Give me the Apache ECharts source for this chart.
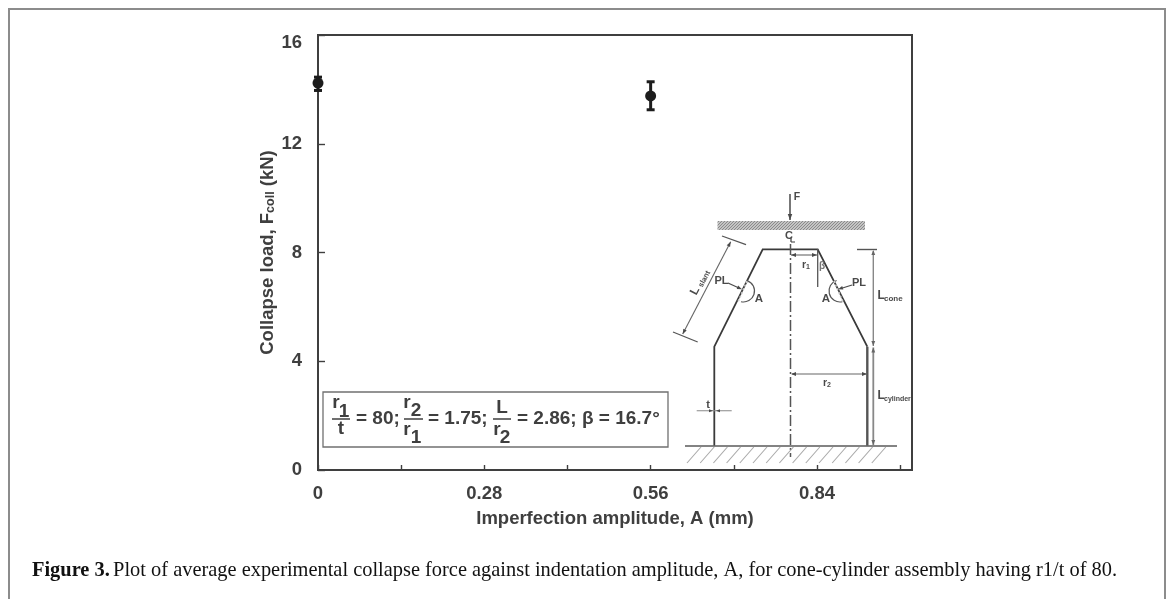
<!DOCTYPE html>
<html>
<head>
<meta charset="utf-8">
<style>html,body{margin:0;padding:0;background:#fff}#c{width:1171px;height:599px}</style>
<script src="https://cdn.jsdelivr.net/npm/echarts@6/dist/echarts.min.js"></script>
</head>
<body>
<div id="c"></div>
<script>
const amplitudes = [0, 0.56];
const meanLoad = [14.23, 13.76];
const loadHigh = [14.45, 14.28];
const loadLow = [13.96, 13.25];
const xTickLabels = {'0.00':'0','0.28':'0.28','0.56':'0.56','0.84':'0.84'};
const xTitle = 'Imperfection amplitude, A (mm)';
const yTitle = 'Collapse load, F{sub|coll} (kN)';
const caption = 'Plot of average experimental collapse force against indentation amplitude, A, for cone-cylinder assembly having r1/t of 80.';

const INK = '#3f3f3f', SCH = '#4a4a4a', SANS = '"Liberation Sans",Arial,sans-serif';

function line(x1,y1,x2,y2,w,color,dash){
  return {type:'line',silent:true,shape:{x1,y1,x2,y2},style:{stroke:color||SCH,lineWidth:w||1.2,lineDash:dash||null}};
}
function poly(points,fill){return {type:'polygon',silent:true,shape:{points},style:{fill:fill||SCH}};}
function head(x,y,dx,dy,size,color){
  const s=size||5,n=s*0.38;
  return poly([[x,y],[x-dx*s-dy*n,y-dy*s+dx*n],[x-dx*s+dy*n,y-dy*s-dx*n]],color);
}
function txt(x,y,text,size,opt){
  opt=opt||{};
  return {type:'text',silent:true,x,y,rotation:opt.rot||0,style:{text,fontFamily:opt.family||SANS,fontSize:size,fontWeight:opt.weight||'bold',fill:opt.fill||SCH,align:opt.align||'center',verticalAlign:'middle',rich:opt.rich}};
}
function dotPattern(){
  const c=document.createElement('canvas');c.width=3;c.height=3;
  const g=c.getContext('2d');g.fillStyle='#c4c4c4';g.fillRect(0,0,3,3);
  g.fillStyle='#8a8a8a';g.fillRect(0,0,1,1);g.fillRect(2,1,1,1);g.fillRect(1,2,1,1);
  return c;
}
function schematic(){
  const els=[];
  els.push({type:'rect',silent:true,shape:{x:717.5,y:221,width:147.5,height:9},style:{fill:{image:dotPattern(),repeat:'repeat'}}});
  els.push(line(790,194,790,220,1.5),head(790,220,0,1,6));
  els.push(txt(797,197,'F',10.5));
  els.push(txt(789,236,'C',11),line(791,238,791,242,1.3),line(791,242,795,242,1.1));
  els.push({type:'polyline',silent:true,shape:{points:[[714.3,445.7],[714.3,346.7],[762.7,249.3],[817.7,249.3],[867.3,346.7]]},style:{stroke:'#3a3a3a',lineWidth:1.8,fill:null}});
  els.push(line(867.3,346.7,867.3,445.7,2.4,'#555'));
  els.push(line(790.5,244,790.5,457,1.5,'#555',[11,3,2,3]));
  els.push(line(685,446,897,446,1.6,'#5a5a5a'));
  for(let x=701;x<=897;x+=13.2){els.push(line(x,447,x-14,463,1.1,'#a9a9a9'));}
  els.push(line(791,255,817,255,1.1,'#666'),head(791,255,-1,0,5),head(817,255,1,0,5));
  els.push(txt(804,265,'r',10.5),txt(808,267,'1',7));
  els.push(line(817.7,249,817.7,287,1.3,'#555'));
  els.push(txt(822,266,'β',10,{fill:'#777'}));
  els.push(line(857,249.5,877,249.5,1.4,'#555'));
  els.push(line(873.3,251,873.3,346,1.4,'#888'),head(873.3,250,0,-1,5,'#666'),head(873.3,346,0,1,5,'#666'));
  els.push(line(873.3,347.5,873.3,445,1.8,'#888'),head(873.3,347.5,0,-1,5,'#666'),head(873.3,445,0,1,5,'#666'));
  els.push(txt(877.5,296,'L',12,{align:'left'}),txt(884,298.5,'cone',8,{align:'left'}));
  els.push(txt(877.5,396,'L',12,{align:'left'}),txt(884,399,'cylinder',7,{align:'left'}));
  els.push(line(792,374,866,374,1.1,'#666'),head(791,374,-1,0,5),head(867,374,1,0,5));
  els.push(txt(825,383,'r',10.5),txt(829,385,'2',7));
  els.push(line(696.7,410.7,731.7,410.7,1.1,'#888'),head(713,410.7,1,0,4),head(716,410.7,-1,0,4));
  els.push(txt(708,405,'t',11));
  els.push(line(730.7,241.7,682.7,334,1.1,'#666'));
  els.push(head(730.7,241.7,0.46,-0.89,5),head(682.7,334,-0.46,0.89,5));
  els.push(line(722,236,746,244.7,1.3,'#555'),line(673,332,697.7,342,1.3,'#555'));
  els.push(txt(695,291,'L',12,{rot:1.08}),txt(704.5,279,'slant',7.5,{rot:1.08}));
  els.push({type:'arc',silent:true,shape:{cx:743.5,cy:291,r:11,startAngle:-1.25,endAngle:1.8},style:{stroke:'#555',lineWidth:1.2,fill:null}});
  els.push({type:'arc',silent:true,shape:{cx:840,cy:291,r:11,startAngle:1.35,endAngle:4.4},style:{stroke:'#555',lineWidth:1.2,fill:null}});
  els.push(line(747,281,738,302,1.6,'#ccc',[2,2]),line(834,281,843,302,1.6,'#ccc',[2,2]));
  els.push(txt(721.5,281,'PL',11),line(728,283,739,288,1.3),head(742,289.3,0.92,0.39,5));
  els.push(txt(859,283,'PL',11),line(852,285,841,288.5,1.3),head(838,289.3,-0.95,0.3,5));
  els.push(txt(759,299,'A',11.5),txt(826,299,'A',11.5));
  return els;
}
function parameterBox(){
  const c=INK,f=19,k={fill:c};
  const sub=(x,y,t)=>txt(x,y,t,f,k);
  return [
    {type:'rect',silent:true,shape:{x:323,y:392,width:345,height:55},style:{fill:'#fff',stroke:'#707070',lineWidth:1.3}},
    sub(336,403,'r'),sub(344,412,'1'),line(332,419,350,419,1.5,c),sub(341,429,'t'),
    txt(356,419,'= 80;',f,{fill:c,align:'left'}),
    sub(407,403,'r'),sub(416,411,'2'),line(404,419,423,419,1.5,c),sub(407,430,'r'),sub(416,438,'1'),
    txt(428,419,'= 1.75;',f,{fill:c,align:'left'}),
    sub(502,408,'L'),line(493,419,511,419,1.5,c),sub(497,430,'r'),sub(505,438,'2'),
    txt(517,419,'= 2.86; β = 16.7°',f,{fill:c,align:'left'})
  ];
}
const chart = echarts.init(document.getElementById('c'),null,{renderer:'canvas'});
chart.setOption({
  animation:false,
  backgroundColor:'#fff',
  grid:{left:318,top:35,width:594,height:435,show:true,borderColor:INK,borderWidth:2,backgroundColor:'transparent'},
  xAxis:{type:'value',min:0,max:1,interval:0.14,
    name:xTitle,nameLocation:'middle',nameGap:39,
    nameTextStyle:{fontFamily:SANS,fontSize:18.5,fontWeight:'bold',color:INK},
    axisLine:{show:true,lineStyle:{color:INK,width:2}},
    axisTick:{show:true,inside:true,length:5,lineStyle:{color:INK,width:1.4}},
    splitLine:{show:false},
    axisLabel:{margin:14,fontFamily:SANS,fontSize:18.5,fontWeight:'bold',color:INK,showMinLabel:true,showMaxLabel:false,hideOverlap:false,
      formatter:v=>xTickLabels[v.toFixed(2)]||''}},
  yAxis:{type:'value',min:0,max:16,interval:4,
    name:yTitle,nameLocation:'middle',nameGap:41,nameRotate:90,nameMoveOverlap:false,
    nameTextStyle:{fontFamily:SANS,fontSize:18.5,fontWeight:'bold',color:INK,rich:{sub:{fontFamily:SANS,fontSize:12.5,fontWeight:'bold',color:INK,verticalAlign:'bottom',padding:[5,0,0,0]}}},
    axisLine:{show:true,lineStyle:{color:INK,width:2}},
    axisTick:{show:true,inside:true,length:7,lineStyle:{color:INK,width:1.4}},
    splitLine:{show:false},
    axisLabel:{margin:16,fontFamily:SANS,fontSize:18.5,fontWeight:'bold',color:INK,
      formatter:v=>v===16?'{shift|16}':String(v),
      rich:{shift:{fontFamily:SANS,fontSize:18.5,fontWeight:'bold',color:INK,padding:[16,0,0,0]}}}},
  series:[
    {type:'custom',coordinateSystem:'cartesian2d',clip:false,z:5,silent:true,
     data:amplitudes.map((x,i)=>[x,loadLow[i],loadHigh[i]]),
     encode:{x:0,y:[1,2]},
     renderItem:(p,api)=>{
       const lo=api.coord([api.value(0),api.value(1)]),hi=api.coord([api.value(0),api.value(2)]);
       const st={stroke:'#1c1c1c',lineWidth:3};
       return {type:'group',children:[
         {type:'line',shape:{x1:lo[0],y1:lo[1],x2:hi[0],y2:hi[1]},style:st},
         {type:'line',shape:{x1:lo[0]-4,y1:lo[1],x2:lo[0]+4,y2:lo[1]},style:st},
         {type:'line',shape:{x1:hi[0]-4,y1:hi[1],x2:hi[0]+4,y2:hi[1]},style:st}]};
     }},
    {type:'scatter',clip:false,z:6,silent:true,symbol:'circle',symbolSize:11,
     itemStyle:{color:'#1c1c1c',opacity:1},
     data:amplitudes.map((x,i)=>[x,meanLoad[i]])}
  ],
  graphic:{elements:[
    {type:'polyline',silent:true,shape:{points:[[9,599],[9,9],[1165,9],[1165,599]]},style:{stroke:'#8c8c8c',lineWidth:2,fill:null}},
    ...schematic(),
    ...parameterBox(),
    {type:'text',silent:true,x:32,y:571,style:{
      text:'{b|Figure 3.} {r|'+caption+'}',verticalAlign:'middle',align:'left',
      rich:{b:{fontFamily:'"Liberation Serif",serif',fontSize:20.4,fontWeight:'bold',fill:'#111',color:'#111'},
            r:{fontFamily:'"Liberation Serif",serif',fontSize:20.4,fill:'#111',color:'#111'}}}}
  ]}
});
</script>
</body>
</html>
